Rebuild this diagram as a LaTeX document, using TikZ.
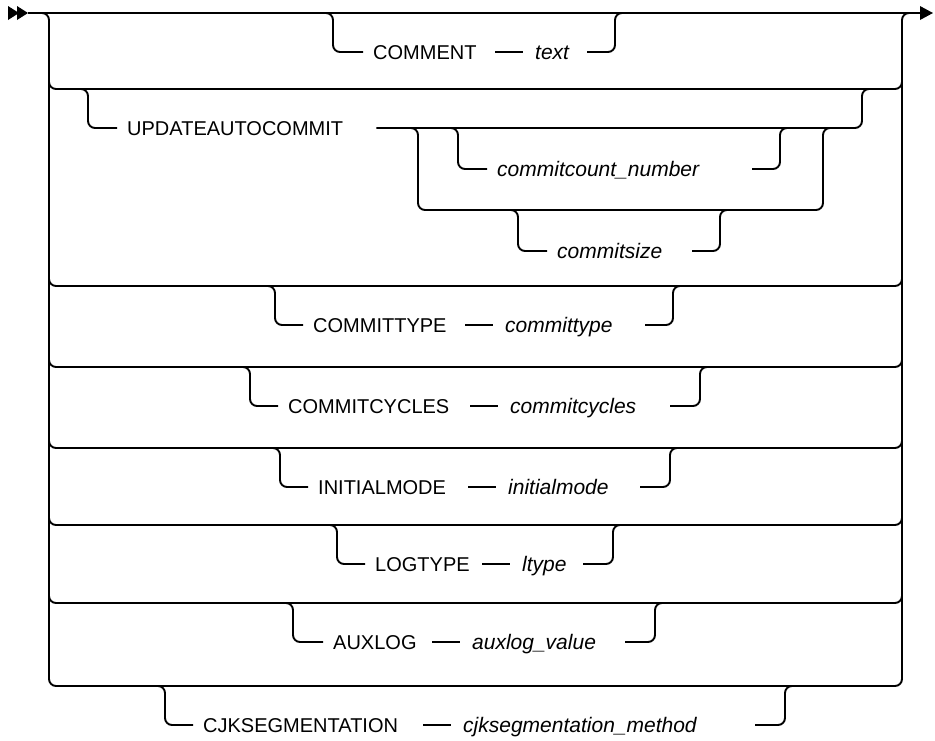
\documentclass[tikz,border=0pt]{standalone}
\usepackage{fontspec}
\setmainfont{Liberation Sans}
\begin{document}
\begin{tikzpicture}[x=1pt,y=-1pt,
  rail/.style={line width=1.9pt, rounded corners=7pt},
  kw/.style={font={\fontsize{20}{24}\selectfont}, inner sep=0pt, anchor=base west},
  var/.style={font={\fontsize{21}{25}\selectfont\itshape}, inner sep=0pt, anchor=base west},
  tip/.style={fill=black, draw=none}
]
\useasboundingbox (0,0) rectangle (935,740);

% start and end of the main line
\coordinate (start) at (28,13);
\coordinate (end) at (920,13);
\fill[tip] (8,6) -- (19,13) -- (8,20) -- cycle;
\fill[tip] (17,6) -- (28,13) -- (17,20) -- cycle;
\fill[tip] (920,6) -- (933,13) -- (920,20) -- cycle;
\draw[rail] (start) -- (end);

% outer rails with bottom line
\coordinate (LT) at (49,13);
\coordinate (LB) at (49,686);
\coordinate (RB) at (902,686);
\coordinate (RT) at (902,13);
\draw[rail] (36,13) -- (LT) -- (LB) -- (RB) -- (RT) -- (915,13);

% intermediate choice lines
\foreach \Y in {89,286,367,448,525,603}{
  \draw[rail] (49,\Y-14) -- (49,\Y) -- (902,\Y) -- (902,\Y-14);
}

% simple rows: keyword -- variable
\foreach \Y/\D/\K/\A/\S/\R/\kwt/\vt [count=\n] in {
  13/333/373/535/587/615/COMMENT/text,
  286/275/313/505/645/673/COMMITTYPE/committype,
  367/250/288/510/670/700/COMMITCYCLES/commitcycles,
  448/280/318/508/640/670/INITIALMODE/initialmode,
  525/337/375/522/583/613/LOGTYPE/ltype,
  603/293/333/472/625/655/AUXLOG/auxlog\_value,
  686/165/203/463/755/785/CJKSEGMENTATION/cjksegmentation\_method}{
  \pgfmathsetmacro\I{\Y+39}
  \pgfmathsetmacro\B{\Y+46}
  \coordinate (h\n) at (\D,\Y);
  \coordinate (i\n) at (\D,\I);
  \node[kw] (k\n) at (\K,\B) {\kwt};
  \node[var] (a\n) at (\A,\B) {\vt};
  \coordinate (s\n) at (\S,\I);
  \coordinate (r\n) at (\R,\I);
  \coordinate (t\n) at (\R,\Y);
  \draw[rail, shorten >=10pt] ([xshift=-14pt]h\n) -- (h\n) -- (i\n) -- (i\n -| k\n.west);
  \draw[rail, shorten >=12pt] (i\n -| a\n.west) ++(-40,0) -- (i\n -| a\n.west);
  \draw[rail] (s\n) -- (r\n) -- (t\n) -- ([xshift=14pt]t\n);
}

% UPDATEAUTOCOMMIT row with nested choice
\coordinate (uh) at (88,89);
\coordinate (ui) at (88,128);
\node[kw] (uk) at (127,135) {UPDATEAUTOCOMMIT};
\draw[rail, shorten >=10pt] (74,89) -- (uh) -- (ui) -- (ui -| uk.west);
\coordinate (ur) at (862,128);
\coordinate (ut) at (862,89);
\draw[rail, shorten <=33pt] (ui -| uk.east) -- (ur) -- (ut) -- (876,89);

% nested choice rails
\coordinate (nL) at (418,128);
\coordinate (nLB) at (418,210);
\coordinate (nRB) at (823,210);
\coordinate (nR) at (823,128);
\draw[rail] (404,128) -- (nL) -- (nLB) -- (nRB) -- (nR) -- (837,128);

% commitcount_number
\coordinate (c1h) at (458,128);
\coordinate (c1i) at (458,169);
\node[var] (c1) at (497,176) {commitcount\_number};
\draw[rail, shorten >=10pt] (444,128) -- (c1h) -- (c1i) -- (c1i -| c1.west);
\coordinate (c1s) at (752,169);
\coordinate (c1r) at (780,169);
\coordinate (c1t) at (780,128);
\draw[rail] (c1s) -- (c1r) -- (c1t) -- (794,128);

% commitsize
\coordinate (c2h) at (518,210);
\coordinate (c2i) at (518,251);
\node[var] (c2) at (557,258) {commitsize};
\draw[rail, shorten >=10pt] (504,210) -- (c2h) -- (c2i) -- (c2i -| c2.west);
\coordinate (c2s) at (692,251);
\coordinate (c2r) at (720,251);
\coordinate (c2t) at (720,210);
\draw[rail] (c2s) -- (c2r) -- (c2t) -- (734,210);
\end{tikzpicture}
\end{document}
